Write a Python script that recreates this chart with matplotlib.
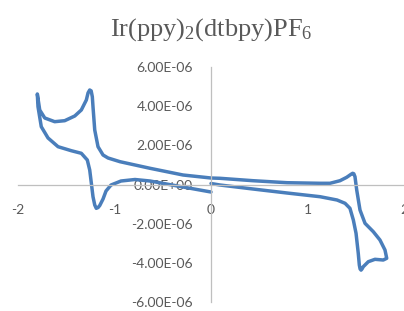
import matplotlib
matplotlib.use("Agg")
from matplotlib import pyplot as plt

# cyclic voltammogram: potential (V), current (1e-6 A)
potential = [0.000, 0.093, 0.435, 0.788, 1.130, 1.306, 1.389, 1.440, 1.475, 1.503,
             1.526, 1.537, 1.545, 1.555, 1.565, 1.578, 1.630, 1.699, 1.785, 1.821,
             1.803, 1.751, 1.682, 1.596, 1.544, 1.510, 1.492, 1.480, 1.468, 1.450,
             1.406, 1.337, 1.233, 1.130, 0.788, 0.435, 0.093, 0.000, -0.290, -0.632,
             -0.943, -1.067, -1.119, -1.171, -1.205, -1.223, -1.230, -1.242, -1.257, -1.274,
             -1.292, -1.344, -1.412, -1.516, -1.620, -1.723, -1.775, -1.800, -1.793, -1.759,
             -1.689, -1.585, -1.448, -1.344, -1.282, -1.257, -1.240, -1.223, -1.205, -1.189,
             -1.170, -1.153, -1.119, -1.088, -1.036, -0.933, -0.788, -0.632, -0.290, 0.000]
current = [0.051, -0.026, -0.231, -0.436, -0.626, -0.795, -0.964, -1.221, -1.821, -2.503,
           -3.528, -4.128, -4.330, -4.390, -4.330, -4.215, -3.959, -3.836, -3.872, -3.785,
           -3.359, -2.846, -2.421, -1.990, -1.308, -0.282, 0.400, 0.550, 0.574, 0.520,
           0.369, 0.195, 0.062, 0.062, 0.092, 0.195, 0.318, 0.333, 0.487, 0.831,
           1.169, 1.359, 1.513, 1.938, 2.795, 3.990, 4.500, 4.800, 4.846, 4.700,
           4.333, 3.821, 3.513, 3.272, 3.221, 3.410, 3.821, 4.641, 3.990, 2.964,
           2.385, 1.938, 1.733, 1.600, 1.256, 0.744, 0.062, -0.626, -1.050, -1.221,
           -1.180, -1.077, -0.744, -0.333, -0.026, 0.179, 0.256, 0.179, -0.128, -0.385]
current = [c * 1e-6 for c in current]

xticks = [-2, -1, 0, 1, 2]
yticks = [-6e-6, -4e-6, -2e-6, 0, 2e-6, 4e-6, 6e-6]
ylabels = ['-6.00E-06', '-4.00E-06', '-2.00E-06', '0.00E+00',
           '2.00E-06', '4.00E-06', '6.00E-06']

plt.rcParams['mathtext.fontset'] = 'custom'
plt.rcParams['mathtext.rm'] = 'Liberation Serif'
plt.rcParams['mathtext.default'] = 'regular'

fig = plt.figure(figsize=(4.04, 3.11), dpi=100)
ax = fig.add_axes([0.0446, 0.0305, 0.9554, 0.7525])
ax.plot(potential, current, color='#4A7EBB', lw=2.5,
        solid_joinstyle='round', solid_capstyle='round')

ax.set_xlim(-2, 2)
ax.set_ylim(-6e-6, 6e-6)
for s in ['top', 'right']:
    ax.spines[s].set_visible(False)
ax.spines['left'].set_position(('data', 0))
ax.spines['bottom'].set_position(('data', 0))
for s in ['left', 'bottom']:
    ax.spines[s].set_color('#BFBFBF')
    ax.spines[s].set_linewidth(0.9)

ax.set_xticks(xticks)
ax.set_xticklabels([str(t) for t in xticks])
ax.set_yticks(yticks)
ax.set_yticklabels(ylabels)
ax.tick_params(axis='both', length=0, labelsize=10, labelcolor='#595959')
ax.tick_params(axis='y', pad=13)
ax.tick_params(axis='x', pad=14)
for lab in ax.get_xticklabels() + ax.get_yticklabels():
    lab.set_family('Lato')

fig.text(0.522, 0.904, r'Ir(ppy)$_2$(dtbpy)PF$_6$', ha='center', va='center',
         fontsize=19, family='Liberation Serif', color='#595959')

fig.savefig('out.png', dpi=100)
